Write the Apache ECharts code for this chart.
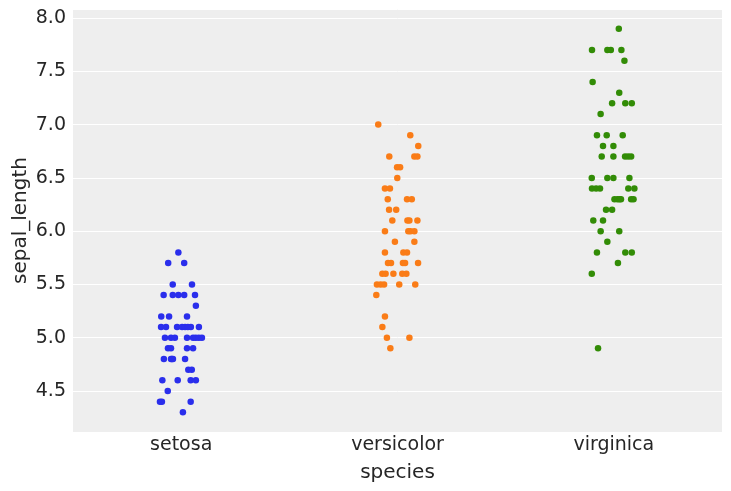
<!DOCTYPE html>
<html><head><meta charset="utf-8">
<script src="https://cdn.jsdelivr.net/npm/echarts@6/dist/echarts.min.js"></script>
<style>html,body{margin:0;padding:0;background:#fff}#c{width:731px;height:491px}</style>
</head><body><div id="c"></div>
<script>
var categories = ['setosa', 'versicolor', 'virginica'];
var yTicks = [4.5, 5.0, 5.5, 6.0, 6.5, 7.0, 7.5, 8.0];

var setosaY = [5.8,5.7,5.7,5.5,5.5,5.4,5.4,5.4,5.4,5.4,5.3,5.2,5.2,5.2,
  5.1,5.1,5.1,5.1,5.1,5.1,5.1,5.1, 5.0,5.0,5.0,5.0,5.0,5.0,5.0,5.0,
  4.9,4.9,4.9,4.9, 4.8,4.8,4.8,4.8,4.8, 4.7,4.7, 4.6,4.6,4.6,4.6, 4.5, 4.4,4.4,4.4, 4.3];
var setosaJitter = [-0.013,-0.060,0.014,-0.039,0.050,-0.081,-0.039,-0.013,0.014,0.064,0.068,-0.092,-0.056,0.027,
  -0.093,-0.070,-0.019,0.004,0.018,0.031,0.045,0.082, -0.075,-0.047,-0.029,0.027,0.055,0.068,0.082,0.096,
  -0.061,-0.047,0.027,0.055, -0.080,-0.047,-0.043,-0.038,0.018, 0.033,0.049, -0.087,-0.016,0.044,0.068, -0.062,
  -0.098,-0.089,0.044, 0.008];

var versicolorY = [7.0,6.9,6.8,6.7,6.7,6.7,6.6,6.6,6.5,6.4,6.4,6.3,6.3,6.3,6.2,6.2,6.1,6.1,6.1,6.1,
  6.0,6.0,6.0,6.0,5.9,5.9,5.8,5.8,5.8,5.7,5.7,5.7,5.7,5.7,5.6,5.6,5.6,5.6,5.6,
  5.5,5.5,5.5,5.5,5.5,5.4,5.2,5.1,5.0,5.0,4.9];
var versicolorJitter = [-0.089,0.059,0.096,-0.038,0.078,0.092,-0.002,0.012,-0.001,-0.058,-0.035,-0.045,0.044,0.066,
  -0.039,-0.006,-0.024,0.046,0.055,0.092,-0.058,0.050,0.060,0.078,-0.012,0.078,-0.058,0.027,0.044,
  -0.044,-0.030,0.025,0.035,0.095,-0.070,-0.055,-0.019,0.022,0.041,-0.095,-0.078,-0.062,0.008,0.082,
  -0.098,-0.058,-0.070,-0.049,0.055,-0.033];

var virginicaY = [7.9,7.7,7.7,7.7,7.7,7.6,7.4,7.3,7.2,7.2,7.2,7.1,6.9,6.9,6.9,6.8,6.8,
  6.7,6.7,6.7,6.7,6.7,6.5,6.5,6.5,6.5,6.4,6.4,6.4,6.4,6.4,6.3,6.3,6.3,6.3,6.3,6.3,
  6.2,6.2,6.1,6.1,6.0,6.0,5.9,5.8,5.8,5.8,5.7,5.6,4.9];
var virginicaJitter = [0.023,-0.101,-0.030,-0.014,0.035,0.049,-0.098,0.025,-0.008,0.053,0.083,-0.061,
  -0.078,-0.033,0.041,-0.050,-0.002,-0.056,-0.002,0.052,0.066,0.080,-0.102,-0.030,-0.002,0.072,
  -0.101,-0.082,-0.064,0.067,0.095,0.003,0.017,0.026,0.033,0.080,0.091,-0.036,-0.008,-0.095,-0.050,
  -0.061,0.025,-0.030,-0.078,0.053,0.083,0.019,-0.102,-0.073];

var colors = ['#2a2eec', '#fa7c17', '#328c06'];
var allY = [setosaY, versicolorY, virginicaY];
var allJ = [setosaJitter, versicolorJitter, virginicaJitter];

function pts(i) {
  return allY[i].map(function (v, k) { return [i + allJ[i][k], v]; });
}

var FONT = 'DejaVu Sans';
var chart = echarts.init(document.getElementById('c'), null, {renderer: 'canvas'});
chart.setOption({
  animation: false,
  backgroundColor: '#ffffff',
  grid: {left: 73, right: 9, top: 9, bottom: 59, show: true, backgroundColor: '#eeeeee', borderWidth: 0,
    outerBoundsMode: 'none', containLabel: false},
  xAxis: [{
    type: 'category', data: categories, boundaryGap: true,
    name: 'species', nameLocation: 'middle', nameGap: 31, nameMoveOverlap: false,
    nameTextStyle: {fontFamily: FONT, fontSize: 20, color: '#262626'},
    axisLine: {show: false}, axisTick: {show: false}, splitLine: {show: false},
    axisLabel: {fontFamily: FONT, fontSize: 19, color: '#262626', margin: 4}
  }, {
    type: 'value', min: -0.5, max: 2.5, show: false
  }],
  yAxis: {
    type: 'value', min: 4.115, max: 8.085, splitNumber: 8,
    name: 'sepal_length', nameLocation: 'middle', nameGap: 42, nameMoveOverlap: false,
    nameTextStyle: {fontFamily: FONT, fontSize: 20, color: '#262626'},
    axisLine: {show: false}, axisTick: {show: false},
    splitLine: {show: true, lineStyle: {color: '#ffffff', width: 1}},
    axisLabel: {fontFamily: FONT, fontSize: 19, color: '#262626', margin: 7,
      showMinLabel: false, showMaxLabel: false,
      formatter: function (v) { return yTicks.indexOf(Math.round(v * 10) / 10) >= 0 && Math.abs(v*2 - Math.round(v*2)) < 1e-6 ? v.toFixed(1) : ''; }}
  },
  series: [0, 1, 2].map(function (i) {
    return {
      type: 'scatter', xAxisIndex: 1, yAxisIndex: 0, data: pts(i),
      symbol: 'circle', symbolSize: 6.5,
      itemStyle: {color: colors[i], opacity: 1}
    };
  })
});
</script></body></html>
